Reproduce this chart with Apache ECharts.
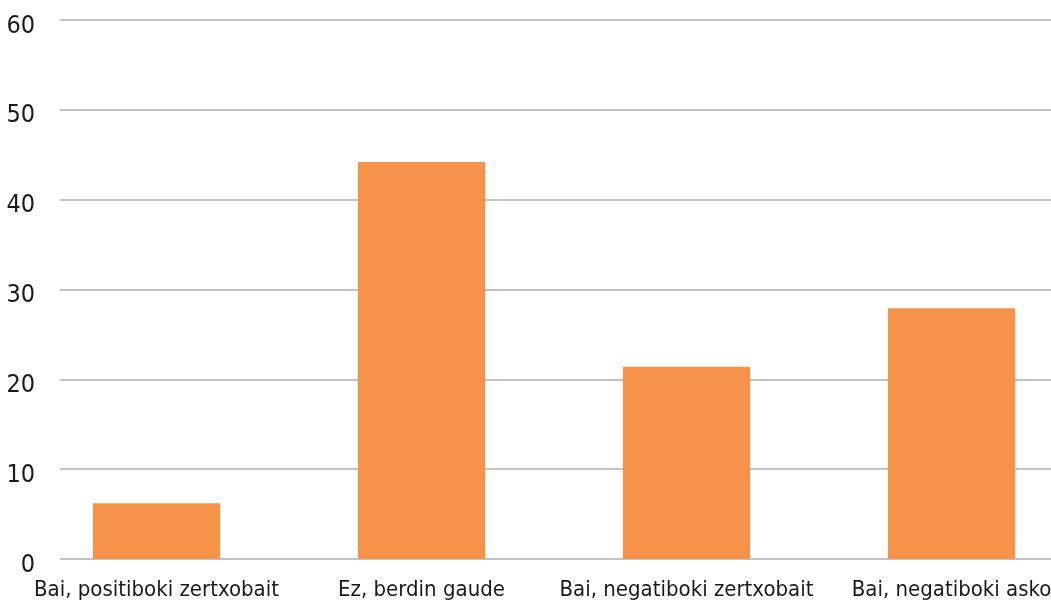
<!DOCTYPE html>
<html><head><meta charset="utf-8">
<script src="https://cdn.jsdelivr.net/npm/echarts@6/dist/echarts.min.js"></script>
<style>html,body{margin:0;padding:0;background:#fff}#c{width:1051px;height:601px}</style>
</head><body><div id="c"></div>
<script>
const categories = ["Bai, positiboki zertxobait", "Ez, berdin gaude", "Bai, negatiboki zertxobait", "Bai, negatiboki asko"];
const values = [6.2, 44.2, 21.4, 27.9];
const yTicks = {min: 0, max: 60, interval: 10};
const FONT = '"DejaVu Sans Condensed", "Liberation Sans", sans-serif';
const chart = echarts.init(document.getElementById('c'));
chart.setOption({
  animation: false,
  grid: [
    {left: 60, right: 0, top: 20, bottom: 42},
    {left: 24, right: -33, top: 20, bottom: 42, outerBoundsMode: 'none'}
  ],
  xAxis: [
    {gridIndex: 0, type: 'category', data: categories, show: false},
    {gridIndex: 1, type: 'category', data: categories,
     axisLine: {show: false}, axisTick: {show: false},
     axisLabel: {fontFamily: FONT, fontSize: 22, color: '#1a1a1a', margin: 20, interval: 0}}
  ],
  yAxis: [
    {gridIndex: 0, type: 'value', min: yTicks.min, max: yTicks.max, interval: yTicks.interval,
     axisLine: {show: false}, axisTick: {show: false},
     axisLabel: {fontFamily: FONT, fontSize: 25, color: '#1a1a1a', margin: 25,
       formatter: '{v|{value}}',
       rich: {v: {fontFamily: FONT, fontSize: 25, color: '#1a1a1a', lineHeight: 25, padding: [12, 0, 0, 0]}}},
     splitLine: {lineStyle: {color: '#c4c4c4', width: 2}}},
    {gridIndex: 1, type: 'value', min: yTicks.min, max: yTicks.max, interval: yTicks.interval, show: false}
  ],
  series: [{
    type: 'bar', xAxisIndex: 1, yAxisIndex: 1, data: values,
    barWidth: '48%', itemStyle: {color: '#F6924A'}
  }]
});
</script></body></html>
